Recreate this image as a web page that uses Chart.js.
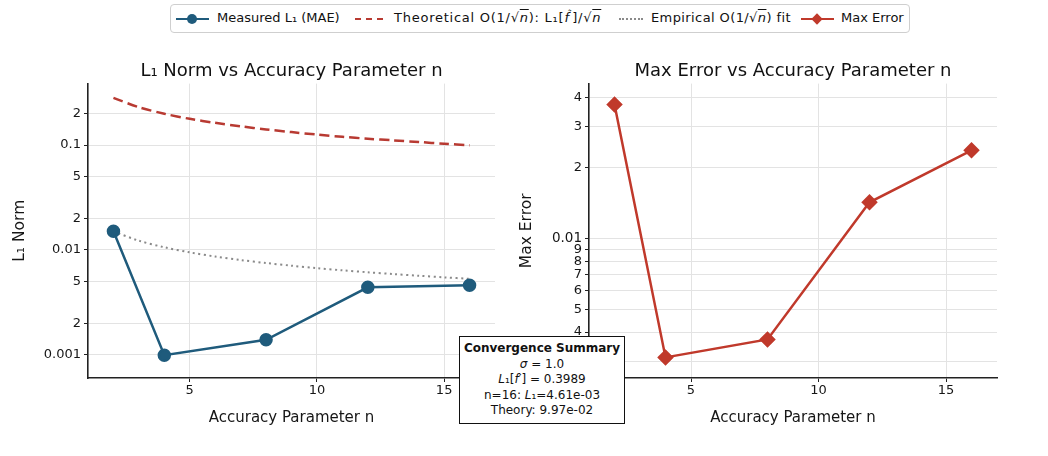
<!DOCTYPE html>
<html>
<head>
<meta charset="utf-8">
<script src="https://cdn.jsdelivr.net/npm/chart.js@4.4.1/dist/chart.umd.min.js"></script>
<style>
    html, body { margin: 0; padding: 0; background: #fff; }
    body { width: 1048px; height: 456px; position: relative; overflow: hidden; font-family: 'DejaVu Sans', sans-serif; color: #111; }
    .legend {
        position: absolute; left: 170px; top: 4px; width: 740px; height: 29px;
        border: 1px solid #cfcfcf; border-radius: 4px; box-sizing: border-box;
        font-size: 13px; white-space: nowrap;
    }
    .legend .item { position: absolute; top: 0; height: 27px; display: flex; align-items: center; }
    .legend .sample { position: relative; width: 33px; height: 12px; }
    .legend .sample .ln { position: absolute; left: 0; right: 0; top: 5px; }
    .legend .sample .dot { position: absolute; left: 11px; top: 1px; width: 10px; height: 10px; border-radius: 50%; }
    .legend .sample .dia { position: absolute; left: 12px; top: 2px; width: 8px; height: 8px; transform: rotate(45deg); }
    .legend .txt { position: absolute; top: 5px; }
    .ov { text-decoration: overline; }
    .wrap { position: absolute; top: 40px; height: 416px; }
    .summary {
        position: absolute; left: 459px; top: 336px; width: 166px; height: 88px; box-sizing: border-box;
        border: 1.5px solid #111; background: #fff; font-size: 12px; text-align: center; line-height: 15.5px; padding-top: 4px;
    }
    .summary b { font-size: 12px; }
</style>
</head>
<body>
<div class="legend">
    <div class="item" style="left:5px;"><div class="sample"><div class="ln" style="border-top:2.5px solid #1f5b7c"></div><div class="dot" style="background:#1f5b7c"></div></div></div>
    <div class="txt" style="left:46px;">Measured L₁ (MAE)</div>
    <div class="item" style="left:184px;"><div class="sample" style="width:28px;"><div class="ln" style="border-top:2.5px dashed #b83a32"></div></div></div>
    <div class="txt" style="left:223px; letter-spacing:0.75px;">Theoretical O(1/√<span class="ov"><i>n</i></span>): L₁[<i>f</i><sup style="font-size:8px">′̂</sup>]/√<span class="ov"><i>n</i></span></div>
    <div class="item" style="left:448px;"><div class="sample" style="width:24px;"><div class="ln" style="border-top:2px dotted #8a8a8a"></div></div></div>
    <div class="txt" style="left:480px; letter-spacing:0.4px;">Empirical O(1/√<span class="ov"><i>n</i></span>) fit</div>
    <div class="item" style="left:630px;"><div class="sample"><div class="ln" style="border-top:2.5px solid #c0392b"></div><div class="dia" style="background:#c0392b"></div></div></div>
    <div class="txt" style="left:670px;">Max Error</div>
</div>

<div class="wrap" style="left:0; width:510px;"><canvas id="l1Chart"></canvas></div>
<div class="wrap" style="left:510px; width:538px;"><canvas id="maxChart"></canvas></div>

<div class="summary">
    <b>Convergence Summary</b><br>
    <i>σ</i> = 1.0<br>
    <i>L</i>₁[<i>f</i>′] = 0.3989<br>
    n=16: <i>L</i>₁=4.61e-03<br>
    Theory: 9.97e-02
</div>

<script>
// valores
const nValues = [2, 4, 8, 12, 16];
const measuredL1 = [0.0151, 0.00099, 0.00139, 0.0044, 0.00461];
const maxError = [0.0372, 0.00312, 0.00372, 0.01427, 0.02376];

const nDense = [2, 3, 4, 5, 6, 7, 8, 9, 10, 11, 12, 13, 14, 15, 16];
const theoryL1 = [0.282, 0.230, 0.199, 0.178, 0.163, 0.151, 0.141, 0.133, 0.126, 0.120, 0.115, 0.111, 0.107, 0.103, 0.0997];
const empiricalFit = [0.0150, 0.01224, 0.0106, 0.00948, 0.00865, 0.00801, 0.0075, 0.00707, 0.0067, 0.00639, 0.00612, 0.00588, 0.00567, 0.00547, 0.0053];

const xTicks = [5, 10, 15];
const l1TickValues = [0.001, 0.002, 0.005, 0.01, 0.02, 0.05, 0.1, 0.2];
const l1TickLabels = ['0.001', '2', '5', '0.01', '2', '5', '0.1', '2'];
const maxTickValues = [0.003, 0.004, 0.005, 0.006, 0.007, 0.008, 0.009, 0.01, 0.02, 0.03, 0.04];
const maxTickLabels = ['3', '4', '5', '6', '7', '8', '9', '0.01', '2', '3', '4'];

const COLORS = {
    blue: '#1f5b7c',
    red: '#b83a32',
    redLine: '#c0392b',
    gray: '#8a8a8a',
    grid: '#e3e3e3',
    axis: '#222'
};

Chart.defaults.font.family = "'DejaVu Sans', sans-serif";
Chart.defaults.color = '#161616';
Chart.defaults.animation = false;

const toPoints = (xs, ys) => xs.map((x, i) => ({ x: x, y: ys[i] }));

function xAxis() {
    return {
        type: 'linear',
        min: 1,
        max: 17,
        afterBuildTicks: (axis) => { axis.ticks = xTicks.map(v => ({ value: v })); },
        afterFit: (s) => { s.height = 49; s.paddingLeft = 0; s.paddingRight = 0; },
        grid: { color: COLORS.grid, lineWidth: 1, drawTicks: true, tickLength: 4, tickColor: COLORS.axis, tickWidth: 1 },
        border: { display: true, color: COLORS.axis, width: 1.6 },
        ticks: { font: { size: 13 }, padding: 1, maxRotation: 0 },
        title: { display: true, text: 'Accuracy Parameter n', font: { size: 15 }, padding: { top: 0, bottom: 0 } }
    };
}

function yAxis(min, max, values, labels, width, titleText, titlePad, majorSet) {
    return {
        type: 'logarithmic',
        min: min,
        max: max,
        afterBuildTicks: (axis) => { axis.ticks = values.map(v => ({ value: v })); },
        afterFit: (s) => { s.width = width; s.paddingTop = 0; s.paddingBottom = 0; },
        grid: { color: COLORS.grid, lineWidth: 1, drawTicks: true, tickLength: 4, tickColor: COLORS.axis, tickWidth: 1 },
        border: { display: true, color: COLORS.axis, width: 1.6 },
        ticks: {
            autoSkip: false,
            padding: 3,
            font: (c) => ({ size: (c.tick && majorSet.includes(c.tick.value)) ? 13.5 : 13 }),
            callback: (val, i) => labels[i]
        },
        title: { display: true, text: titleText, font: { size: 15.5 }, padding: { top: titlePad, bottom: 0 } }
    };
}

function baseOptions(titleText, padRight, scales) {
    return {
        responsive: true,
        maintainAspectRatio: false,
        layout: { padding: { top: 21, right: padRight, bottom: 29, left: 0 } },
        plugins: {
            legend: { display: false },
            tooltip: { enabled: false },
            title: { display: true, fullSize: false, text: titleText, color: '#111', font: { size: 18, weight: 'normal' }, padding: { top: 0, bottom: 1 } }
        },
        scales: scales
    };
}

new Chart(document.getElementById('l1Chart').getContext('2d'), {
    type: 'line',
    data: {
        datasets: [
            {
                label: 'Measured L₁ (MAE)',
                data: toPoints(nValues, measuredL1),
                borderColor: COLORS.blue, backgroundColor: COLORS.blue,
                borderWidth: 2.5, pointRadius: 5.5, pointStyle: 'circle', tension: 0
            },
            {
                label: 'Theoretical',
                data: toPoints(nDense, theoryL1),
                borderColor: COLORS.red, borderWidth: 2.5, borderDash: [10, 5],
                pointRadius: 0, tension: 0.3
            },
            {
                label: 'Empirical fit',
                data: toPoints(nDense, empiricalFit),
                borderColor: COLORS.gray, borderWidth: 2, borderDash: [2, 3.5],
                pointRadius: 0, tension: 0.3
            }
        ]
    },
    options: baseOptions('L₁ Norm vs Accuracy Parameter n', 15, {
        x: xAxis(),
        y: yAxis(0.000637, 0.386, l1TickValues, l1TickLabels, 88, 'L₁ Norm', 11, [])
    })
});

new Chart(document.getElementById('maxChart').getContext('2d'), {
    type: 'line',
    data: {
        datasets: [{
            label: 'Max Error',
            data: toPoints(nValues, maxError),
            borderColor: COLORS.redLine, backgroundColor: COLORS.redLine,
            borderWidth: 2.5, pointRadius: 6.5, pointStyle: 'rectRot', tension: 0
        }]
    },
    options: baseOptions('Max Error vs Accuracy Parameter n', 51, {
        x: xAxis(),
        y: yAxis(0.00255, 0.0457, maxTickValues, maxTickLabels, 79, 'Max Error', 8, [0.01])
    })
});
</script>
</body>
</html>
